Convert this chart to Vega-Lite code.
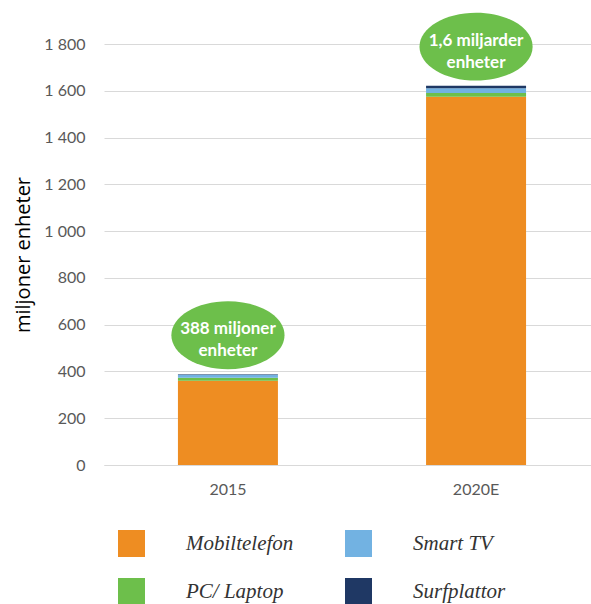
{
  "$schema": "https://vega.github.io/schema/vega-lite/v6.json",
  "width": 496,
  "height": 421,
  "autosize": "none",
  "padding": {"left": 104, "top": 44, "right": 0, "bottom": 139},
  "background": "white",
  "config": {"view": {"stroke": null}},
  "datasets": {
    "units": [
      {"year": "2015", "type": "Mobiltelefon", "value": 360, "rank": 1},
      {"year": "2015", "type": "PC/ Laptop", "value": 13, "rank": 2},
      {"year": "2015", "type": "Smart TV", "value": 13, "rank": 3},
      {"year": "2015", "type": "Surfplattor", "value": 2, "rank": 4},
      {"year": "2020E", "type": "Mobiltelefon", "value": 1575, "rank": 1},
      {"year": "2020E", "type": "PC/ Laptop", "value": 15, "rank": 2},
      {"year": "2020E", "type": "Smart TV", "value": 21, "rank": 3},
      {"year": "2020E", "type": "Surfplattor", "value": 11, "rank": 4}
    ],
    "totals": [
      {"year": "2015", "total": 388, "label": "388 miljoner\nenheter"},
      {"year": "2020E", "total": 1622, "label": "1,6 miljarder\nenheter"}
    ]
  },
  "encoding": {
    "x": {
      "field": "year", "type": "nominal",
      "scale": {"domain": ["2015", "2020E"], "paddingInner": 0.597, "paddingOuter": 0.298},
      "axis": {
        "title": null, "labelAngle": 0, "ticks": false,
        "domainColor": "#d9d9d9", "domainWidth": 1,
        "labelFont": "Lato", "labelFontSize": 16, "labelColor": "#595959", "labelPadding": 16
      }
    }
  },
  "layer": [
    {
      "data": {"name": "units"},
      "mark": {"type": "bar"},
      "encoding": {
        "y": {
          "field": "value", "type": "quantitative", "stack": "zero",
          "scale": {"domain": [0, 1800], "nice": false},
          "axis": {
            "title": "miljoner enheter",
            "values": [0, 200, 400, 600, 800, 1000, 1200, 1400, 1600, 1800],
            "labelExpr": "replace(format(datum.value, ','), ',', ' ')",
            "ticks": false, "domain": false,
            "gridColor": "#d9d9d9", "gridWidth": 1,
            "labelFont": "Lato", "labelFontSize": 16, "labelColor": "#595959", "labelPadding": 19,
            "titleFont": "Open Sans", "titleFontSize": 20, "titleFontWeight": "normal", "titleColor": "#000000",
            "titlePadding": 10
          }
        },
        "color": {
          "field": "type", "type": "nominal",
          "scale": {
            "domain": ["Mobiltelefon", "Smart TV", "PC/ Laptop", "Surfplattor"],
            "range": ["#EE8D22", "#72B2E2", "#6DBF4B", "#1F3864"]
          },
          "legend": {
            "title": null, "orient": "none", "direction": "horizontal", "columns": 2,
            "legendX": 14, "legendY": 486,
            "symbolType": "square", "symbolSize": 729, "symbolStrokeWidth": 0,
            "labelFont": "Liberation Serif", "labelFontStyle": "italic", "labelFontSize": 21,
            "labelColor": "#333333", "labelOffset": 41,
            "columnPadding": 51, "rowPadding": 21, "gridAlign": "each", "padding": 0
          }
        },
        "order": {"field": "rank", "type": "quantitative", "sort": "ascending"}
      }
    },
    {
      "data": {"name": "totals"},
      "mark": {
        "type": "point", "filled": true, "color": "#6DBF4B", "opacity": 1,
        "shape": "M-1,0A1,0.6,0,1,0,1,0A1,0.6,0,1,0,-1,0Z", "size": 12800, "yOffset": -39
      },
      "encoding": {
        "y": {"field": "total", "type": "quantitative"}
      }
    },
    {
      "data": {"name": "totals"},
      "mark": {
        "type": "text", "color": "white", "font": "Lato", "fontWeight": "bold", "fontSize": 17,
        "lineBreak": "\n", "lineHeight": 22, "align": "center", "baseline": "middle", "yOffset": -45
      },
      "encoding": {
        "y": {"field": "total", "type": "quantitative"},
        "text": {"field": "label", "type": "nominal"}
      }
    }
  ]
}
